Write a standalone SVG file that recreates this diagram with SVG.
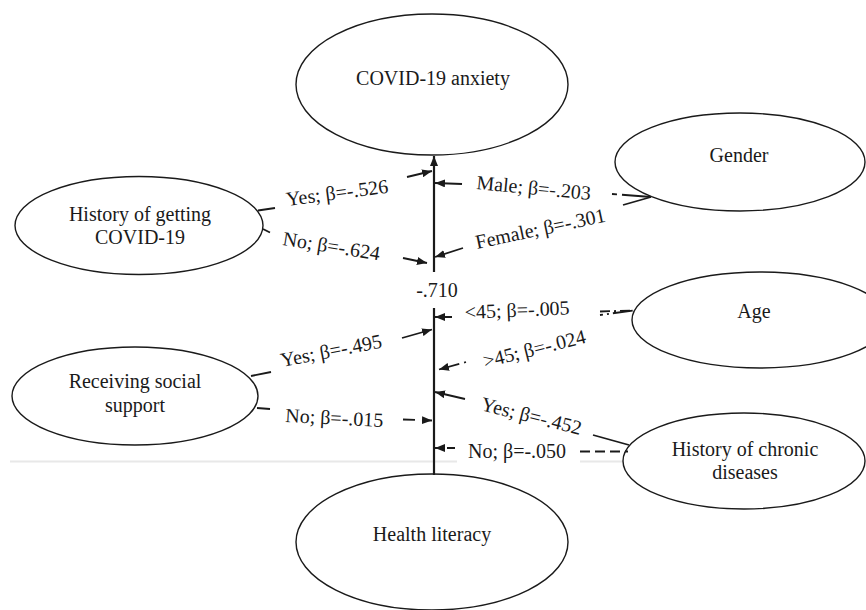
<svg xmlns="http://www.w3.org/2000/svg" width="866" height="610" viewBox="0 0 866 610">
<style>
.node ellipse{fill:#fff;stroke:#1a1a1a;stroke-width:1.4}
text{font-family:"Liberation Serif","Times New Roman",serif;font-size:20px;fill:#1a1a1a}
.node text{text-anchor:middle}
.c{stroke:#1a1a1a;stroke-width:1.8;fill:none}
.d{stroke-dasharray:9 5}
.main{stroke:#1a1a1a;stroke-width:2.2;fill:none}
.gray{stroke:#e8e8e8;stroke-width:2;fill:none}
</style>
<defs>
<marker id="arr" markerUnits="userSpaceOnUse" markerWidth="11" markerHeight="8" refX="10" refY="4" orient="auto">
<path d="M0,0 L10,4 L0,8 Z" fill="#1a1a1a"/>
</marker>
</defs>
<rect width="866" height="610" fill="#fff"/>
<g id="background-line">
<line class="gray" x1="10" y1="461.5" x2="457" y2="461.5"/>
<line class="gray" x1="580" y1="461.5" x2="623" y2="461.5"/>
</g>
<g id="node-covid-anxiety" class="node">
<ellipse cx="432" cy="84.5" rx="136" ry="70.5"/>
<text x="433" y="85">COVID-19 anxiety</text>
</g>
<g id="node-gender" class="node">
<ellipse cx="740" cy="162" rx="125" ry="49"/>
<text x="739" y="162">Gender</text>
</g>
<g id="node-history-covid" class="node">
<ellipse cx="139" cy="225.5" rx="124" ry="49"/>
<text x="140" y="221">History of getting</text>
<text x="140" y="244">COVID-19</text>
</g>
<g id="node-age" class="node">
<ellipse cx="760" cy="320" rx="128" ry="48"/>
<text x="754" y="318">Age</text>
</g>
<g id="node-social-support" class="node">
<ellipse cx="135" cy="396" rx="123" ry="49"/>
<text x="135" y="388">Receiving social</text>
<text x="135" y="412">support</text>
</g>
<g id="node-chronic" class="node">
<ellipse cx="744" cy="461" rx="121" ry="48"/>
<text x="745" y="456">History of chronic</text>
<text x="745" y="479">diseases</text>
</g>
<g id="node-health-literacy" class="node">
<ellipse cx="432" cy="542" rx="136" ry="68"/>
<text x="432" y="541">Health literacy</text>
</g>
<g id="connectors">
<line class="main" x1="434" y1="272" x2="434" y2="156" marker-end="url(#arr)"/>
<line class="main" x1="434" y1="308" x2="434" y2="475"/>
<text x="437" y="297" text-anchor="middle">-.710</text>

<line class="c" x1="258" y1="210.5" x2="275" y2="208"/>
<text transform="translate(287,206) rotate(-7.5)">Yes; β=-.526</text>
<line class="c" x1="407" y1="177" x2="432" y2="171" marker-end="url(#arr)"/>

<line class="c" x1="263" y1="229" x2="270" y2="232.5"/>
<text transform="translate(282,245) rotate(9)">No; β=-.624</text>
<line class="c" x1="403" y1="258" x2="427" y2="263" marker-end="url(#arr)"/>

<line class="c" x1="612" y1="194" x2="651" y2="197" stroke-dasharray="5 5 40"/>
<text transform="translate(476,189) rotate(5.5)">Male; β=-.203</text>
<line class="c" x1="462" y1="184" x2="435" y2="183" marker-end="url(#arr)"/>

<line class="c" x1="623" y1="205" x2="651" y2="197"/>
<text transform="translate(477,249) rotate(-12)">Female; β=-.301</text>
<line class="c" x1="463" y1="248" x2="435" y2="257" marker-end="url(#arr)"/>

<line class="c" x1="600" y1="311.5" x2="633" y2="310.5" stroke-dasharray="10 4 2 4"/>
<text transform="translate(465,319) rotate(-2.5)">&lt;45; β=-.005</text>
<line class="c" x1="452" y1="317" x2="435" y2="317" stroke-dasharray="9 3" marker-end="url(#arr)"/>

<line class="c" x1="600" y1="315" x2="633" y2="310.5" stroke-dasharray="3 4 2 4 20"/>
<text transform="translate(485,368) rotate(-14)">&gt;45; β=-.024</text>
<line class="c" x1="466" y1="362" x2="439" y2="369.5" stroke-dasharray="2 5 30" marker-end="url(#arr)"/>

<line class="c" x1="251" y1="376" x2="271" y2="372"/>
<text transform="translate(282,367) rotate(-11)">Yes; β=-.495</text>
<line class="c" x1="402" y1="338" x2="432" y2="329.5" marker-end="url(#arr)"/>

<line class="c" x1="257" y1="408" x2="270" y2="409"/>
<text transform="translate(285,422) rotate(3)">No; β=-.015</text>
<line class="c" x1="403" y1="419.5" x2="432" y2="420.5" stroke-dasharray="12 7" marker-end="url(#arr)"/>

<line class="c" x1="593" y1="435" x2="629" y2="445"/>
<text transform="translate(480,410) rotate(14)">Yes; β=-.452</text>
<line class="c" x1="465" y1="399" x2="435" y2="392" marker-end="url(#arr)"/>

<line class="c" x1="580" y1="451.5" x2="628" y2="451.5" stroke-dasharray="10 5"/>
<text x="468" y="458">No; β=-.050</text>
<line class="c" x1="455" y1="448" x2="435" y2="448" stroke-dasharray="8 4" marker-end="url(#arr)"/>
</g>
</svg>
